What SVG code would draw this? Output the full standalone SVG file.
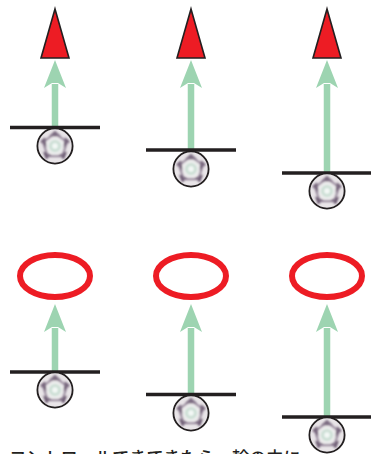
<svg xmlns="http://www.w3.org/2000/svg" width="371" height="454" viewBox="0 0 371 454">
<style>
.bar{stroke:#231f20;stroke-width:3.6;fill:none}
.shaft{stroke:#9dd4b1;stroke-width:6.500;fill:none}
.head{fill:#9dd4b1}
.tri{fill:#ed1c24;stroke:#231f20;stroke-width:1.600;stroke-linejoin:miter}
.ring{fill:#fff;stroke:#ed1c24;stroke-width:6}
text{font-family:"Noto Sans CJK JP","Noto Sans",sans-serif;font-size:17.200px;font-weight:500;fill:#231f20}
</style>
<defs>
<filter id="soft" x="-20%" y="-20%" width="140%" height="140%"><feGaussianBlur stdDeviation="0.900"/></filter>
<radialGradient id="core"><stop offset="0" stop-color="#fff"/><stop offset=".5" stop-color="#dbe9e2"/><stop offset="1" stop-color="#f2eff1"/></radialGradient>
<g id="ball">
<circle r="17.600" fill="#e9e5e8"/>
<g filter="url(#soft)">
<path d="M0-14 4-10.500-4-10.500ZM13.500-4.500 9.500-.5 10.500-7ZM8.500 12 5 9.500 10.500 7ZM-8.500 12-5 9.500-10.500 7ZM-13.500-4.500-9.500-.5-10.500-7Z" fill="#4f3a55" stroke="#4f3a55" stroke-width="1.500"/>
<path d="M0-12.500 11.900-3.900 7.300 10.100-7.300 10.100-11.900-3.900Z" fill="none" stroke="#8a7a90" stroke-width="1.800"/>
<circle r="8.500" fill="url(#core)"/>
<circle r="4.500" fill="none" stroke="#bdd5c8" stroke-width="1.600"/>
</g>
<circle r="17.600" fill="none" stroke="#231f20" stroke-width="1.800"/>
</g>
<path id="arrowhead" d="M0 0 11 28 3 23-3 23-11 28Z" class="head"/>
</defs>
<g id="connectors">
<path class="shaft" d="M55 84V128M191 84V151M327 84V174M55 328V373M191 328V395M327 328V418"/>
<use href="#arrowhead" x="55" y="60"/>
<use href="#arrowhead" x="191" y="60"/>
<use href="#arrowhead" x="327" y="60"/>
<use href="#arrowhead" x="55" y="304"/>
<use href="#arrowhead" x="191" y="304"/>
<use href="#arrowhead" x="327" y="304"/>
</g>
<g id="target-triangle-1"><path class="tri" d="M55 9 69 58H41Z"/></g>
<g id="target-triangle-2"><path class="tri" d="M191 9 205 58H177Z"/></g>
<g id="target-triangle-3"><path class="tri" d="M327 9 341 58H313Z"/></g>
<g id="target-ring-1"><ellipse class="ring" cx="55" cy="276" rx="35" ry="21"/></g>
<g id="target-ring-2"><ellipse class="ring" cx="191" cy="276" rx="35" ry="21"/></g>
<g id="target-ring-3"><ellipse class="ring" cx="327" cy="276" rx="35" ry="21"/></g>
<g id="player-1"><path class="bar" d="M10 127.500H100"/><use href="#ball" x="55" y="146"/></g>
<g id="player-2"><path class="bar" d="M146 150H236"/><use href="#ball" x="191" y="169"/></g>
<g id="player-3"><path class="bar" d="M282 173H372"/><use href="#ball" x="327" y="191"/></g>
<g id="player-4"><path class="bar" d="M10 372H100"/><use href="#ball" x="55" y="390"/></g>
<g id="player-5"><path class="bar" d="M146 394.500H236"/><use href="#ball" x="191" y="413"/></g>
<g id="player-6"><path class="bar" d="M282 417H372"/><use href="#ball" x="327" y="435"/></g>
<text id="caption" x="9" y="463.500">コントロールできてきたら、輪の中に</text>
</svg>
